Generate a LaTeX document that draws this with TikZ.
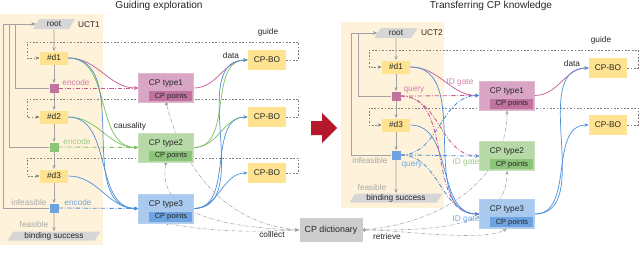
\documentclass[tikz,border=0pt]{standalone}
\usepackage{fontspec}
\setmainfont{Liberation Sans}
\usetikzlibrary{positioning, shapes.geometric, arrows.meta}

\definecolor{bgYellow}{HTML}{FEF3DA}
\definecolor{boxYellow}{HTML}{FFE390}
\definecolor{pinkL}{HTML}{C45A92}
\definecolor{pinkF}{HTML}{D8A6C4}
\definecolor{pinkD}{HTML}{C0739F}
\definecolor{pinkT}{HTML}{CC80AA}
\definecolor{greenL}{HTML}{7CBF5F}
\definecolor{greenF}{HTML}{B7D9A8}
\definecolor{greenD}{HTML}{8CC47A}
\definecolor{greenT}{HTML}{9CCB87}
\definecolor{blueL}{HTML}{4B8FDA}
\definecolor{blueF}{HTML}{A9CAEE}
\definecolor{blueD}{HTML}{6CA3E0}
\definecolor{blueT}{HTML}{6FA5E2}
\definecolor{grayF}{HTML}{D6D6D6}
\definecolor{grayD}{HTML}{CDCDCD}
\definecolor{grayL}{HTML}{A3A3A3}
\definecolor{grayT}{HTML}{A8A8A8}
\definecolor{loopGray}{HTML}{808080}
\definecolor{redArrow}{HTML}{B5172C}

\pgfdeclarelayer{bg}
\pgfdeclarelayer{edges}
\pgfsetlayers{bg,edges,main}

\begin{document}
\begin{tikzpicture}[
    x=0.25mm, y=-0.25mm,
    font=\fontsize{5.9}{7}\selectfont, text=black!85,
    >={Stealth[length=3pt, width=2.4pt]},
    mytitle/.style={font=\fontsize{7.2}{8.5}\selectfont},
    mylabel/.style={inner sep=0pt},
    mybox/.style={fill=boxYellow, minimum width=7mm, minimum height=3.25mm, inner sep=0pt},
    mybo/.style={fill=boxYellow, minimum width=9.5mm, minimum height=5mm, inner sep=0pt},
    mypara/.style={trapezium, trapezium left angle=62, trapezium right angle=118,
        trapezium stretches=true, fill=grayF, inner sep=0pt, minimum height=2.5mm},
    mytype/.style={minimum width=13.75mm, minimum height=7.25mm, inner sep=0pt,
        text depth=2.5mm, line width=0.3pt},
    mypoints/.style={minimum width=10.75mm, minimum height=2.5mm, inner sep=0pt,
        font=\fontsize{5.3}{6}\selectfont},
    mysquare/.style={minimum size=2.25mm, inner sep=0pt},
    myflow/.style={->, grayL, line width=0.6pt},
    myloop/.style={->, loopGray, line width=0.4pt, dash pattern=on 1.2pt off 1.2pt},
    mycurve/.style={->, line width=0.5pt},
    myenc/.style={->, line width=0.6pt, dash pattern=on 3pt off 1.2pt on 0.6pt off 1.2pt},
    mydict/.style={arrows={{Circle[length=2.2pt]}-{Stealth[length=3pt, width=2.4pt]}},
        grayL, line width=0.4pt, dash pattern=on 2.5pt off 1pt on 0.5pt off 1pt}
]
    \useasboundingbox (0,0) rectangle (640,260);

    % Backgrounds
    \begin{pgfonlayer}{bg}
        \fill[bgYellow] (0,14) rectangle (103,245);
        \fill[bgYellow] (341,22) rectangle (444,208);
    \end{pgfonlayer}

    % Titles
    \node[mytitle] (titleL) at (159,6) {Guiding exploration};
    \node[mytitle] (titleR) at (491,6) {Transferring CP knowledge};

    % Left tree
    \node[mypara, minimum width=10.5mm] (rootL) at (54,24) {root};
    \node[mylabel] (uctL) at (89,25) {UCT1};
    \node[mybox] (d1L) at (54,58) {\#d1};
    \node[mysquare, fill=pinkD] (s1L) at (54,88) {};
    \node[mybox] (d2L) at (54,117) {\#d2};
    \node[mysquare, fill=greenD] (s2L) at (54,147) {};
    \node[mybox] (d3L) at (54,176) {\#d3};
    \node[mysquare, fill=blueD] (s3L) at (54,208) {};
    \node[mypara, minimum width=23.25mm, minimum height=2.25mm] (binL) at (54,236) {binding success};

    \node[mylabel, text=pinkT] (e1L) at (76,83) {encode};
    \node[mylabel, text=greenT] (e2L) at (77,142) {encode};
    \node[mylabel, text=blueT] (e3L) at (78,203) {encode};
    \node[mylabel, text=grayT] (infL) at (29,203) {infeasible};
    \node[mylabel, text=grayT] (feaL) at (34,225) {feasible};

    % Left CP types
    \node[mytype, fill=pinkF, draw=pinkD!50] (t1L) at (166,88) {CP type1};
    \node[mypoints, fill=pinkD, above left=0.25mm and 0.25mm of t1L.south east] (p1L) {CP points};
    \node[mytype, fill=greenF, draw=greenD!50] (t2L) at (166,147.5) {CP type2};
    \node[mypoints, fill=greenD, above left=0.25mm and 0.25mm of t2L.south east] (p2L) {CP points};
    \node[mytype, fill=blueF, draw=blueD!50] (t3L) at (166,208.5) {CP type3};
    \node[mypoints, fill=blueD, above left=0.25mm and 0.25mm of t3L.south east] (p3L) {CP points};
    \node[mylabel] (causL) at (130,126) {causality};

    % Left CP-BO
    \node[mybo] (bo1L) at (267,60) {CP-BO};
    \node[mybo] (bo2L) at (267,117) {CP-BO};
    \node[mybo] (bo3L) at (267,173) {CP-BO};
    \node[mylabel] (guideL) at (268,32) {guide};
    \node[mylabel] (dataL) at (231,56) {data};

    % Dictionary
    \node[fill=grayD, minimum width=15.75mm, minimum height=6mm, inner sep=0pt,
        font=\fontsize{6.3}{7.5}\selectfont] (dict) at (331,230) {CP dictionary};
    \node[mylabel] (collect) at (272,235) {colllect};
    \node[mylabel] (retrieve) at (387,237) {retrieve};

    % Red arrow
    \fill[redArrow] (311,121) -- (322,121) -- (322,113) -- (337,128) -- (322,143)
        -- (322,135) -- (311,135) -- cycle;

    % Right tree
    \node[mypara, minimum width=10.75mm] (rootR) at (396,33) {root};
    \node[mylabel] (uctR) at (432,33) {UCT2};
    \node[mybox] (d1R) at (396,67) {\#d1};
    \node[mysquare, fill=pinkD] (sPR) at (396,96) {};
    \node[mybox] (d3R) at (396,125) {\#d3};
    \node[mysquare, fill=blueD] (sBR) at (396,155) {};
    \node[mypara, minimum width=23.25mm, minimum height=2.25mm] (binR) at (396,198) {binding success};

    \node[mylabel, text=pinkT] (qP) at (414,90) {query};
    \node[mylabel, text=blueT] (qB) at (412,165) {query};
    \node[mylabel, text=grayT] (infR) at (370,161) {infeasible};
    \node[mylabel, text=grayT] (feaR) at (372,188) {feasible};

    % Right CP types
    \node[mytype, fill=pinkF, draw=pinkD!50] (t1R) at (507,95.5) {CP type1};
    \node[mypoints, fill=pinkD, above left=0.25mm and 0.25mm of t1R.south east] (p1R) {CP points};
    \node[mytype, fill=greenF, draw=greenD!50] (t2R) at (507,156) {CP type2};
    \node[mypoints, fill=greenD, above left=0.25mm and 0.25mm of t2R.south east] (p2R) {CP points};
    \node[mytype, fill=blueF, draw=blueD!50] (t3R) at (507,214) {CP type3};
    \node[mypoints, fill=blueD, above left=0.25mm and 0.25mm of t3R.south east] (p3R) {CP points};
    \node[mylabel, text=pinkT] (g1R) at (460,83) {ID gate};
    \node[mylabel, text=greenT] (g2R) at (466,163) {ID gate};
    \node[mylabel, text=blueT] (g3R) at (466,219) {ID gate};

    % Right CP-BO
    \node[mybo] (bo1R) at (608,68) {CP-BO};
    \node[mybo] (bo2R) at (608,125) {CP-BO};
    \node[mylabel] (guideR) at (601,40) {guide};
    \node[mylabel] (dataR) at (572,64) {data};

    \begin{pgfonlayer}{edges}
        % Tree flow
        \foreach \a/\b in {rootL/d1L, d1L/s1L, s1L/d2L, d2L/s2L, s2L/d3L, d3L/s3L, s3L/binL,
                rootR/d1R, d1R/sPR, sPR/d3R, d3R/sBR, sBR/binR}
            \draw[myflow] (\a.south) -- (\b.north);

        % Back to root
        \draw[myflow] (s1L.west) -- ++(-33.5,0) |- (rootL.west);
        \draw[myflow] (s2L.west) -- ++(-39.5,0) |- (rootL.west);
        \draw[myflow] (s3L.west) -- ++(-45.5,0) |- (rootL.west);
        \draw[myflow] (sPR.west) -- ++(-32.5,0) |- (rootR.west);
        \draw[myflow] (sBR.west) -- ++(-39.5,0) |- (rootR.west);

        % Guide loops
        \draw[myloop] (bo1L.east) -- ++(12,0) |- (27,42) |- (d1L.west);
        \draw[myloop] (bo2L.east) -- ++(12,0) |- (27,99) |- (d2L.west);
        \draw[myloop] (bo3L.east) -- ++(12,0) |- (27,158) |- (d3L.west);
        \draw[myloop] (bo1R.east) -- ++(11,0) |- (369,50) |- (d1R.west);
        \draw[myloop] (bo2R.east) -- ++(11,0) |- (369,108) |- (d3R.west);

        % Encode
        \draw[myenc, pinkL] (s1L.east) -- (t1L.west);
        \draw[myenc, greenL] (s2L.east) -- (t2L.west);
        \draw[myenc, blueL] (s3L.east) -- (t3L.west);

        % Causality
        \draw[mycurve, pinkL] (d1L.east) to[out=0, in=180] (t1L.west);
        \foreach \a in {d1L, d2L}
            \draw[mycurve, greenL] (\a.east) to[out=0, in=180] (t2L.west);
        \foreach \a in {d1L, d2L, d3L}
            \draw[mycurve, blueL] (\a.east) to[out=0, in=180] (t3L.west);

        % Data
        \draw[mycurve, pinkL] (t1L.east) to[out=0, in=180] (bo1L.west);
        \foreach \b in {bo1L, bo2L}
            \draw[mycurve, greenL] (t2L.east) to[out=0, in=180] (\b.west);
        \foreach \b in {bo1L, bo2L, bo3L}
            \draw[mycurve, blueL] (t3L.east) to[out=0, in=180] (\b.west);

        % Collect
        \draw[mydict] (t1L.south) to[out=-75, in=175] (dict.west);
        \draw[mydict] (t2L.south) to[out=-100, in=178] (dict.west);
        \draw[mydict] (t3L.south) to[out=-10, in=182] (dict.west);

        % Right: ID gate
        \draw[mycurve, pinkL] (d1R.east) to[out=0, in=180] (t1R.west);
        \foreach \a in {d1R, d3R}
            \draw[mycurve, blueL] (\a.east) to[out=0, in=180] (t3R.west);

        % Query
        \foreach \b in {t1R, t2R, t3R} {
            \draw[myenc, pinkL] (sPR.east) to[out=0, in=180] (\b.west);
            \draw[myenc, blueL] (sBR.east) to[out=0, in=180] (\b.west);
        }

        % Right: data
        \draw[mycurve, pinkL] (t1R.east) to[out=0, in=180] (bo1R.west);
        \foreach \b in {bo1R, bo2R}
            \draw[mycurve, blueL] (t3R.east) to[out=0, in=180] (\b.west);

        % Retrieve
        \draw[mydict] (dict.east) to[out=5, in=-90] (t1R.south);
        \draw[mydict] (dict.east) to[out=0, in=-90] (t2R.south);
        \draw[mydict] (dict.east) to[out=2, in=-150, looseness=0.5] (t3R.south);
    \end{pgfonlayer}
\end{tikzpicture}
\end{document}
